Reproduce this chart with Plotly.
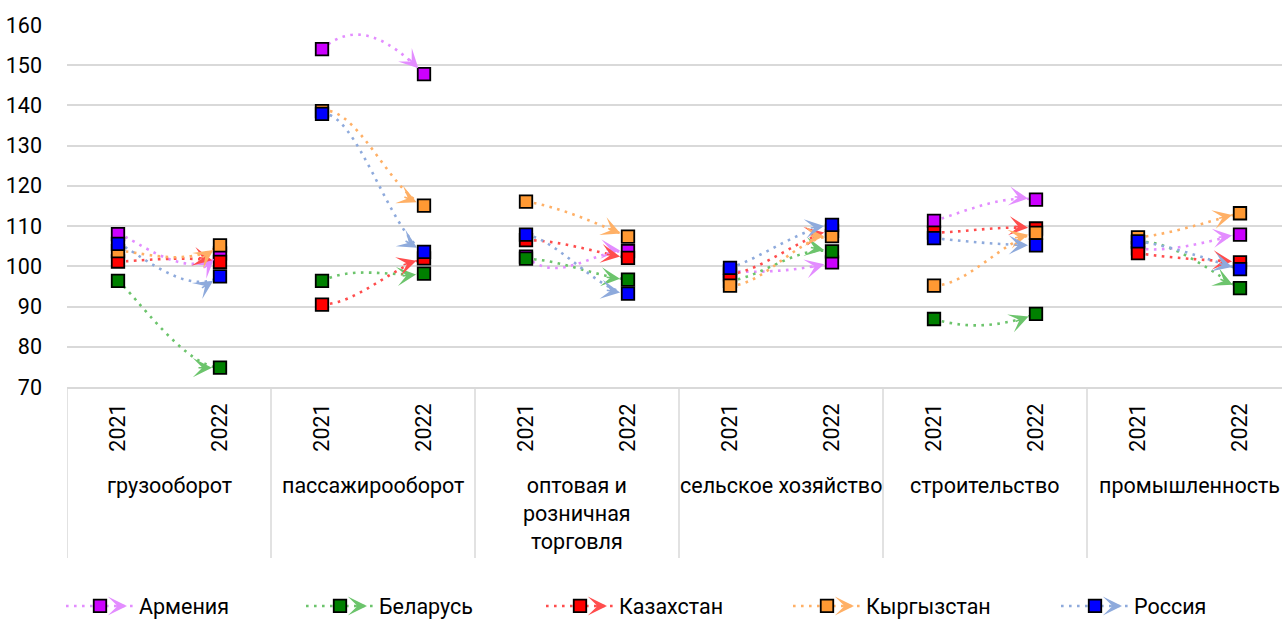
import plotly.graph_objects as go

# ---------------- data ----------------
groups = ["грузооборот", "пассажирооборот", "оптовая и<br>розничная<br>торговля",
          "сельское хозяйство", "строительство", "промышленность"]
years = ["2021", "2022"]

series_names = ["Армения", "Беларусь", "Казахстан", "Кыргызстан", "Россия"]
armenia    = [108.0, 103.2, 154.0, 147.8, 102.4, 103.8, 98.8, 101.0, 111.3, 116.6, 104.5, 107.9]
belarus    = [96.4, 74.8, 96.4, 98.2, 101.9, 96.7, 96.4, 103.7, 86.9, 88.2, 106.0, 94.6]
kazakhstan = [101.2, 101.1, 90.5, 102.0, 106.5, 102.1, 98.0, 108.8, 108.4, 109.4, 103.3, 101.0]
kyrgyzstan = [103.8, 105.2, 138.6, 115.1, 116.1, 107.4, 95.2, 107.5, 95.2, 108.3, 107.2, 113.2]
russia     = [105.6, 97.5, 137.9, 103.6, 107.9, 93.2, 99.6, 110.3, 107.0, 105.2, 106.2, 99.3]
all_values = [armenia, belarus, kazakhstan, kyrgyzstan, russia]

marker_colors = ["#CC00FF", "#008000", "#FF0000", "#FF9933", "#0000FF"]
line_colors = ["#E38DFF", "#6CC46C", "#FF4D4D", "#FFB066", "#8EAADC"]

# ---------------- layout geometry ----------------
W, H = 1282, 619
ML, MR, MT, MB = 67, 0, 25, 232
PW, PH = W - ML - MR, H - MT - MB
CAT_PX = 102.0
XR = [-0.5, -0.5 + PW / CAT_PX]
YR = [70, 160]
XS = CAT_PX
YS = PH / (YR[1] - YR[0])

FONT = "Roboto"
FS = 21.5
n = len(armenia)
xs = list(range(n))

fig = go.Figure()
shapes = []
annotations = []
DASH = "2.6px,5.4px"
LW = 2.6
AH_SIZE, AH_W = 2.0, 1.6
MSIZE, MLINE = 12.5, 1.8

for si, vals in enumerate(all_values):
    lc = line_colors[si]
    for i in range(0, n - 1, 2):
        x0, y0 = xs[i], vals[i]
        x1, y1 = xs[i + 1], vals[i + 1]
        ax_, ay_ = (xs[i - 1], vals[i - 1]) if i > 0 else (x0, y0)
        dx_, dy_ = (xs[i + 2], vals[i + 2]) if i + 2 < n else (x1, y1)
        c1x, c1y = x0 + (x1 - ax_) / 6, y0 + (y1 - ay_) / 6
        c2x, c2y = x1 - (dx_ - x0) / 6, y1 - (dy_ - y0) / 6
        path = f"M{x0},{y0} C{c1x},{c1y} {c2x},{c2y} {x1},{y1}"
        shapes.append(dict(type="path", path=path, xref="x", yref="y",
                           line=dict(color=lc, width=LW, dash=DASH), layer="between"))
        # arrow head along tangent at end of the segment
        tx = (x1 - c2x) * XS
        ty = -(y1 - c2y) * YS
        L = (tx ** 2 + ty ** 2) ** 0.5 or 1.0
        ux, uy = tx / L, ty / L
        Ltail = 22
        annotations.append(dict(x=x1, y=y1, xref="x", yref="y", text="",
                                showarrow=True, axref="pixel", ayref="pixel",
                                ax=-ux * Ltail, ay=-uy * Ltail,
                                arrowhead=3, arrowsize=AH_SIZE, arrowwidth=AH_W,
                                arrowcolor=lc, standoff=8, borderpad=0))

for si, vals in enumerate(all_values):
    fig.add_trace(go.Scatter(
        x=xs, y=vals, mode="markers", showlegend=False, hoverinfo="skip",
        marker=dict(symbol="square", size=MSIZE, color=marker_colors[si],
                    line=dict(color="black", width=MLINE))))

# legend entries: one legend per country so each can sit where the reference has it
legend_marker_px = [100, 340, 580, 827, 1095]
LEG_Y = 606
ITEMW = 68
legend_layouts = {}
for si, name in enumerate(series_names):
    lname = "legend" if si == 0 else f"legend{si + 1}"
    fig.add_trace(go.Scatter(
        x=[None], y=[None], mode="lines+markers", name=name, legend=lname,
        line=dict(color=line_colors[si], width=LW, dash=DASH),
        marker=dict(symbol="square", size=MSIZE, color=marker_colors[si],
                    line=dict(color="black", width=MLINE))))
    legend_layouts[lname] = dict(
        orientation="h", xref="container", yref="container",
        x=(legend_marker_px[si] - 39) / W, y=1 - LEG_Y / H,
        xanchor="left", yanchor="middle", itemwidth=ITEMW,
        font=dict(family=FONT, size=21.5, color="black"),
        bgcolor="rgba(0,0,0,0)")
    # arrow head next to the legend symbol
    tip = legend_marker_px[si] + 27
    annotations.append(dict(x=(tip - ML) / PW, y=-(LEG_Y - (MT + PH)) / PH,
                            xref="paper", yref="paper", text="", showarrow=True,
                            axref="pixel", ayref="pixel", ax=-12, ay=0,
                            arrowhead=3, arrowsize=AH_SIZE, arrowwidth=AH_W,
                            arrowcolor=line_colors[si], standoff=0, borderpad=0))

# group labels and dividers
for gi, g in enumerate(groups):
    annotations.append(dict(x=2 * gi + 0.5, y=-(471 - (MT + PH)) / PH, xref="x", yref="paper",
                            text=g, showarrow=False, yanchor="top", xanchor="center",
                            font=dict(family=FONT, size=FS, color="black")))
for gi in range(len(groups) + 1):
    shapes.append(dict(type="line", xref="x", yref="paper", x0=2 * gi - 0.5, x1=2 * gi - 0.5,
                       y0=0, y1=-(558 - (MT + PH)) / PH,
                       line=dict(color="#D9D9D9", width=1.5), layer="below"))

tick_text = [years[i % 2] for i in range(n)]

fig.update_layout(
    width=W, height=H,
    margin=dict(l=ML, r=MR, t=MT, b=MB, autoexpand=False),
    paper_bgcolor="white", plot_bgcolor="white",
    font=dict(family=FONT, size=FS, color="black"),
    shapes=shapes, annotations=annotations,
    showlegend=True,
    xaxis=dict(type="linear", range=XR, tickvals=xs, ticktext=tick_text,
               tickangle=-90, showgrid=False, zeroline=False, showline=True,
               linecolor="#D9D9D9", linewidth=1.5, ticks="", ticklabelstandoff=6,
               tickfont=dict(family=FONT, size=FS, color="black"), fixedrange=True),
    yaxis=dict(range=YR, dtick=10, tick0=70, showgrid=True, gridcolor="#D9D9D9",
               gridwidth=1.5, zeroline=False, showline=False, ticks="",
               ticklabelstandoff=24,
               tickfont=dict(family=FONT, size=FS, color="black"), fixedrange=True),
    **legend_layouts,
)

fig.write_html("out.html", config={"displayModeBar": False},
               post_script="document.body.style.margin='0px';")
